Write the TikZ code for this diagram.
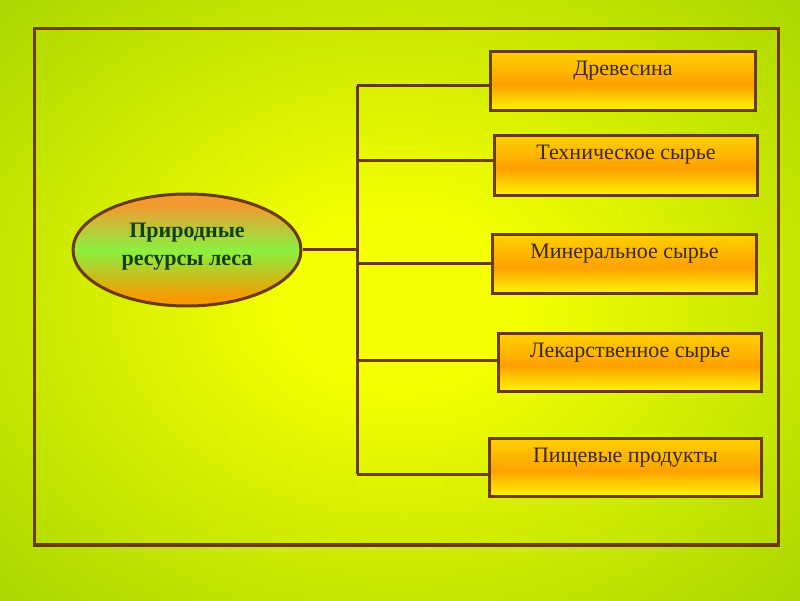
\documentclass[tikz,border=0pt]{standalone}
\usepackage{fontspec}
\setmainfont{Liberation Serif}
\usetikzlibrary{shapes.geometric}
\definecolor{bgin}{HTML}{F4FF00}
\definecolor{bgout}{HTML}{A8D600}
\definecolor{brownline}{HTML}{6B3A08}
\definecolor{boxtop}{HTML}{FFCC00}
\definecolor{boxmid}{HTML}{FFA000}
\definecolor{boxbot}{HTML}{FFEA00}
\definecolor{elltop}{HTML}{F29A30}
\definecolor{ellmid}{HTML}{8CF040}
\definecolor{ellbot}{HTML}{F79A00}
\definecolor{boxtext}{HTML}{3A2806}
\definecolor{elltext}{HTML}{0E420E}
\pgfdeclareradialshading{bgshade}{\pgfpoint{0bp}{0bp}}{color(0bp)=(bgin); color(7bp)=(bgin); color(36bp)=(bgout); color(50bp)=(bgout)}
\pgfdeclareverticalshading{ellshade}{100bp}{color(0bp)=(ellbot); color(29bp)=(ellbot); color(50bp)=(ellmid); color(70bp)=(elltop); color(100bp)=(elltop)}
\pgfdeclareverticalshading{boxshade}{100bp}{color(0bp)=(boxbot); color(28bp)=(boxbot); color(47bp)=(boxmid); color(72bp)=(boxtop); color(100bp)=(boxtop)}
\tikzset{
  resbox/.style={draw=brownline, line width=3pt, rectangle, inner sep=0pt,
    shading=boxshade},
  restext/.style={anchor=base, text=boxtext, inner sep=0pt,
    font=\fontsize{22}{26}\selectfont},
  resell/.style={draw=brownline, line width=3pt, ellipse, inner sep=0pt,
    minimum width=228pt, minimum height=112pt, shading=ellshade},
  elltxt/.style={text=elltext, align=center, inner sep=0pt,
    font=\fontsize{22}{28}\selectfont\bfseries},
  conn/.style={draw=brownline, line width=3pt},
  frame/.style={draw=brownline, line width=3.5pt}
}
\begin{document}
\begin{tikzpicture}[x=1pt,y=1pt]
\useasboundingbox (0,0) rectangle (800,600);
\shade[shading=bgshade] (0,0) rectangle (800,600);
\draw[frame] (34.5,571.5) rectangle (778.5,55);

\node[resbox, minimum width=265pt, minimum height=59pt] (b1) at (623,519) {};
\node[resbox, minimum width=263pt, minimum height=60pt] (b2) at (626,434.5) {};
\node[resbox, minimum width=264pt, minimum height=59pt] (b3) at (624.5,336) {};
\node[resbox, minimum width=263pt, minimum height=58pt] (b4) at (630,237.5) {};
\node[resbox, minimum width=272pt, minimum height=58pt] (b5) at (625.5,132.5) {};

\node[restext] (t1) at ([yshift=-25.5pt]b1.north) {Древесина};
\node[restext] (t2) at ([yshift=-25.5pt]b2.north) {Техническое сырье};
\node[restext] (t3) at ([yshift=-25.5pt]b3.north) {Минеральное сырье};
\node[restext] (t4) at ([yshift=-25.5pt]b4.north) {Лекарственное сырье};
\node[restext] (t5) at ([yshift=-25.5pt]b5.north) {Пищевые продукты};

\node[resell] (e) at (187,350) {};
\node[elltxt] (et) at (187,353) {Природные\\ресурсы леса};

\coordinate (j1) at (357,514);
\coordinate (j2) at (357,439);
\coordinate (j3) at (357,336);
\coordinate (j4) at (357,239);
\coordinate (j5) at (357,126);

\draw[conn] (j1) -- (j5);
\draw[conn] (j1) -- (j1 -| b1.west);
\draw[conn] (j2) -- (j2 -| b2.west);
\draw[conn] (j3) -- (j3 -| b3.west);
\draw[conn] (j4) -- (j4 -| b4.west);
\draw[conn] (j5) -- (j5 -| b5.west);
\draw[conn] (e.east) -- (e.east -| j1);
\end{tikzpicture}
\end{document}
